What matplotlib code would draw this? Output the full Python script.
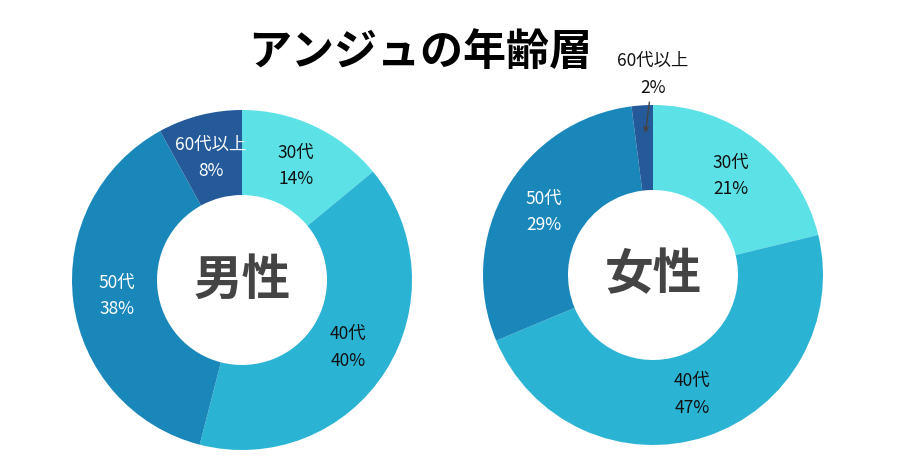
import matplotlib
matplotlib.use("Agg")
import matplotlib.pyplot as plt
import numpy as np

plt.rcParams['font.family'] = ['Noto Sans CJK JP', 'DejaVu Sans']

categories = ["30代", "40代", "50代", "60代以上"]
male = [14, 40, 38, 8]
female = [21, 47, 29, 2]
colors = ["#5CE1E6", "#2BB3D4", "#1A87BA", "#255A9A"]
label_colors = ["#111111", "#111111", "#ffffff", "#ffffff"]

fig = plt.figure(figsize=(9, 4.73), dpi=100)
fig.text(420/900, 1 - 52/473, "アンジュの年齢層", ha="center", va="center",
         fontsize=31, fontweight="bold", color="#000000")

def draw(rect, vals, center_label, outside_last=False):
    ax = fig.add_axes(rect)
    ax.pie(vals, colors=colors, startangle=90, counterclock=False,
           radius=1.0, wedgeprops=dict(width=0.5, linewidth=0))
    ax.set_xlim(-1, 1)
    ax.set_ylim(-1, 1)
    ax.set_aspect("equal")
    ax.axis("off")
    total = sum(vals)
    cum = 0
    for i, (c, v) in enumerate(zip(categories, vals)):
        mid = 90 - (cum + v / 2) / total * 360
        cum += v
        r = 0.74
        x, y = r * np.cos(np.radians(mid)), r * np.sin(np.radians(mid))
        txt = f"{c}\n{v}%"
        if outside_last and i == len(vals) - 1:
            ax.annotate(txt, xy=(x, y + 0.08), xytext=(0.0, 1.18), ha="center", va="center",
                        fontsize=12.5, color="#111111", linespacing=1.6,
                        arrowprops=dict(arrowstyle="-|>", color="#444444", lw=1, mutation_scale=8,
                                        shrinkA=2),
                        annotation_clip=False)
        else:
            ax.text(x, y, txt, ha="center", va="center", fontsize=12.5,
                    color=label_colors[i], linespacing=1.6)
    ax.text(0, 0, center_label, ha="center", va="center", fontsize=35,
            fontweight="bold", color="#444444")

draw([72/900, 23/473, 340/900, 340/473], male, "男性")
draw([483/900, 28/473, 340/900, 340/473], female, "女性", outside_last=True)

fig.savefig("out.png", dpi=100)
